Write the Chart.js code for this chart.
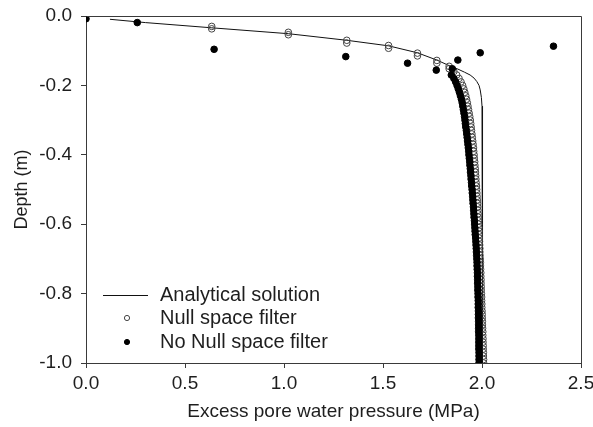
<!DOCTYPE html>
<html>
<head>
<meta charset="utf-8">
<script src="https://cdn.jsdelivr.net/npm/chart.js"></script>
<style>
  html, body { margin: 0; padding: 0; background: #ffffff; }
  #wrap { width: 593px; height: 427px; }
</style>
</head>
<body>
<div id="wrap"><canvas id="c" width="593" height="427"></canvas></div>
<script>
// ---------------- data ----------------
const seriesLabels = ["Analytical solution", "Null space filter", "No Null space filter"];
const xTickValues = [0.0, 0.5, 1.0, 1.5, 2.0, 2.5];
const yTickValues = [0.0, -0.2, -0.4, -0.6, -0.8, -1.0];

// Analytical solution (line)
const analyticalPressure = [0.121, 0.300, 0.635, 1.022, 1.317, 1.528, 1.674, 1.772, 1.834, 1.878, 1.912, 1.940, 1.960, 1.974, 1.985, 1.991, 1.997, 2.000, 2.002, 2.003, 2.003];
const analyticalDepth    = [-0.0095, -0.019, -0.034, -0.051, -0.070, -0.086, -0.106, -0.127, -0.143, -0.153, -0.162, -0.170, -0.179, -0.189, -0.200, -0.213, -0.235, -0.260, -0.350, -0.600, -1.000];

// Null space filter (open circles)
const nullPressure = [
  0.635, 0.635, 1.022, 1.022, 1.317, 1.317, 1.528, 1.528, 1.674, 1.674, 1.772, 1.772, 1.834, 1.834,
  1.858, 1.872, 1.884, 1.894, 1.902, 1.908, 1.913, 1.918, 1.922, 1.926,
  1.929, 1.932, 1.935, 1.938, 1.941, 1.943, 1.945, 1.947, 1.949, 1.951,
  1.953, 1.955, 1.957, 1.958, 1.960, 1.961, 1.963, 1.964, 1.966, 1.967,
  1.968, 1.969, 1.970, 1.972, 1.973, 1.974, 1.975, 1.976, 1.977, 1.978,
  1.979, 1.980, 1.981, 1.982, 1.983, 1.984, 1.985, 1.985, 1.986, 1.987,
  1.988, 1.989, 1.989, 1.990, 1.991, 1.992, 1.992, 1.993, 1.994, 1.994,
  1.995, 1.995, 1.996, 1.996, 1.997, 1.998, 1.998, 1.999, 1.999, 2.000,
  2.001, 2.001, 2.002, 2.002, 2.003, 2.004, 2.004, 2.005, 2.005, 2.006,
  2.006, 2.007, 2.007, 2.008, 2.008
];
const nullDepth = [
  -0.030, -0.037, -0.047, -0.054, -0.070, -0.078, -0.085, -0.093, -0.107, -0.115, -0.128, -0.136, -0.145, -0.152,
  -0.16, -0.17, -0.18, -0.19, -0.20, -0.21, -0.22, -0.23, -0.24, -0.25,
  -0.26, -0.27, -0.28, -0.29, -0.30, -0.31, -0.32, -0.33, -0.34, -0.35,
  -0.36, -0.37, -0.38, -0.39, -0.40, -0.41, -0.42, -0.43, -0.44, -0.45,
  -0.46, -0.47, -0.48, -0.49, -0.50, -0.51, -0.52, -0.53, -0.54, -0.55,
  -0.56, -0.57, -0.58, -0.59, -0.60, -0.61, -0.62, -0.63, -0.64, -0.65,
  -0.66, -0.67, -0.68, -0.69, -0.70, -0.71, -0.72, -0.73, -0.74, -0.75,
  -0.76, -0.77, -0.78, -0.79, -0.80, -0.81, -0.82, -0.83, -0.84, -0.85,
  -0.86, -0.87, -0.88, -0.89, -0.90, -0.91, -0.92, -0.93, -0.94, -0.95,
  -0.96, -0.97, -0.98, -0.99, -1.00
];

// No Null space filter (filled circles)
const noNullPressure = [
  0.000, 0.259, 0.647, 1.312, 1.624, 1.769, 1.850, 1.878, 1.991, 2.361,
  1.845, 1.858, 1.867, 1.874, 1.880, 1.886, 1.891, 1.896, 1.900,
  1.903, 1.906, 1.909, 1.912, 1.914, 1.916, 1.918, 1.921, 1.923, 1.925,
  1.927, 1.929, 1.931, 1.933, 1.934, 1.936, 1.938, 1.939, 1.941, 1.942,
  1.944, 1.945, 1.947, 1.948, 1.950, 1.951, 1.953, 1.954, 1.955, 1.957,
  1.958, 1.959, 1.960, 1.962, 1.963, 1.964, 1.965, 1.966, 1.968, 1.969,
  1.970, 1.971, 1.972, 1.973, 1.974, 1.975, 1.975, 1.976, 1.977, 1.977,
  1.978, 1.978, 1.979, 1.979, 1.980, 1.980, 1.981, 1.981, 1.981, 1.982,
  1.982, 1.982, 1.983, 1.983, 1.983, 1.983, 1.984, 1.984, 1.984, 1.984,
  1.984, 1.985, 1.985, 1.985, 1.985
];
const noNullDepth = [
  -0.008, -0.019, -0.096, -0.117, -0.136, -0.156, -0.152, -0.127, -0.106, -0.087,
  -0.17, -0.18, -0.19, -0.20, -0.21, -0.22, -0.23, -0.24, -0.25,
  -0.26, -0.27, -0.28, -0.29, -0.30, -0.31, -0.32, -0.33, -0.34, -0.35,
  -0.36, -0.37, -0.38, -0.39, -0.40, -0.41, -0.42, -0.43, -0.44, -0.45,
  -0.46, -0.47, -0.48, -0.49, -0.50, -0.51, -0.52, -0.53, -0.54, -0.55,
  -0.56, -0.57, -0.58, -0.59, -0.60, -0.61, -0.62, -0.63, -0.64, -0.65,
  -0.66, -0.67, -0.68, -0.69, -0.70, -0.71, -0.72, -0.73, -0.74, -0.75,
  -0.76, -0.77, -0.78, -0.79, -0.80, -0.81, -0.82, -0.83, -0.84, -0.85,
  -0.86, -0.87, -0.88, -0.89, -0.90, -0.91, -0.92, -0.93, -0.94, -0.95,
  -0.96, -0.97, -0.98, -0.99, -1.00
];

// ---------------- chart ----------------
const FONT = 'Arial, "Liberation Sans", sans-serif';
const AXIS_COLOR = '#3a3a3a';
const TEXT_COLOR = '#1e1e1e';

function pairs(xs, ys) { return xs.map((v, i) => ({ x: v, y: ys[i] })); }

const framePlugin = {
  id: 'frame',
  afterDatasetsDraw(chart) {
    const { ctx, chartArea: a } = chart;
    ctx.save();
    ctx.strokeStyle = AXIS_COLOR;
    ctx.lineWidth = 1;
    ctx.beginPath();
    ctx.moveTo(Math.round(a.left) + 0.5, Math.round(a.top) + 0.5);
    ctx.lineTo(Math.round(a.right) + 0.5, Math.round(a.top) + 0.5);
    ctx.lineTo(Math.round(a.right) + 0.5, Math.round(a.bottom) + 0.5);
    ctx.stroke();
    ctx.restore();
  }
};

const legendPlugin = {
  id: 'insideLegend',
  afterDraw(chart) {
    const { ctx } = chart;
    const ds = chart.data.datasets;
    const rows = [295, 318, 342];
    ctx.save();
    ctx.font = '20px ' + FONT;
    ctx.fillStyle = TEXT_COLOR;
    ctx.textBaseline = 'middle';
    ds.forEach((d, i) => {
      const y = rows[i];
      if (d.showLine) {
        ctx.strokeStyle = d.borderColor;
        ctx.lineWidth = 1;
        ctx.beginPath();
        ctx.moveTo(103, y + 0.5);
        ctx.lineTo(148, y + 0.5);
        ctx.stroke();
      } else {
        ctx.beginPath();
        ctx.arc(127, y, 2.6, 0, Math.PI * 2);
        ctx.fillStyle = d.pointBackgroundColor;
        ctx.fill();
        ctx.strokeStyle = d.pointBorderColor;
        ctx.lineWidth = 1;
        ctx.stroke();
      }
      ctx.fillStyle = TEXT_COLOR;
      ctx.fillText(d.label, 160, y);
    });
    ctx.restore();
  }
};

new Chart(document.getElementById('c'), {
  type: 'scatter',
  data: {
    datasets: [
      {
        label: seriesLabels[0],
        data: pairs(analyticalPressure, analyticalDepth),
        showLine: true,
        borderColor: '#111111',
        borderWidth: 1,
        pointRadius: 0,
        tension: 0,
        order: 2
      },
      {
        label: seriesLabels[1],
        data: pairs(nullPressure, nullDepth),
        showLine: false,
        pointRadius: 3.3,
        pointBorderWidth: 1,
        pointBackgroundColor: 'rgba(255,255,255,0)',
        pointBorderColor: '#444444',
        order: 1
      },
      {
        label: seriesLabels[2],
        data: pairs(noNullPressure, noNullDepth),
        showLine: false,
        pointRadius: 3.3,
        pointBorderWidth: 1,
        pointBackgroundColor: '#000000',
        pointBorderColor: '#000000',
        order: 0
      }
    ]
  },
  options: {
    responsive: false,
    animation: false,
    devicePixelRatio: 1,
    layout: { padding: { left: 0, right: 12, top: 16, bottom: 0 } },
    plugins: {
      legend: { display: false },
      tooltip: { enabled: false }
    },
    scales: {
      x: {
        type: 'linear',
        min: 0, max: 2.5,
        afterBuildTicks(scale) { scale.ticks = xTickValues.map(v => ({ value: v })); },
        afterFit(scale) { scale.height = 64; scale.paddingLeft = 0; scale.paddingRight = 0; },
        grid: { display: true, drawOnChartArea: false, drawTicks: true, tickLength: 5, tickColor: AXIS_COLOR },
        border: { display: true, color: AXIS_COLOR, width: 1 },
        ticks: {
          padding: 4,
          color: TEXT_COLOR,
          font: { family: FONT, size: 19 },
          maxRotation: 0,
          callback: v => Number(v).toFixed(1)
        },
        title: {
          display: true,
          text: 'Excess pore water pressure (MPa)',
          color: TEXT_COLOR,
          font: { family: FONT, size: 19 },
          padding: { top: 0, bottom: 4 }
        }
      },
      y: {
        type: 'linear',
        min: -1, max: 0,
        afterBuildTicks(scale) { scale.ticks = yTickValues.map(v => ({ value: v })); },
        afterFit(scale) { scale.width = 86; scale.paddingTop = 0; scale.paddingBottom = 0; },
        grid: { display: true, drawOnChartArea: false, drawTicks: true, tickLength: 5, tickColor: AXIS_COLOR },
        border: { display: true, color: AXIS_COLOR, width: 1 },
        ticks: {
          padding: 9,
          color: TEXT_COLOR,
          font: { family: FONT, size: 19 },
          callback: v => Number(v).toFixed(1)
        },
        title: {
          display: true,
          text: 'Depth (m)',
          color: TEXT_COLOR,
          font: { family: FONT, size: 18 },
          padding: { top: 11, bottom: 0 }
        }
      }
    }
  },
  plugins: [framePlugin, legendPlugin]
});
</script>
</body>
</html>
